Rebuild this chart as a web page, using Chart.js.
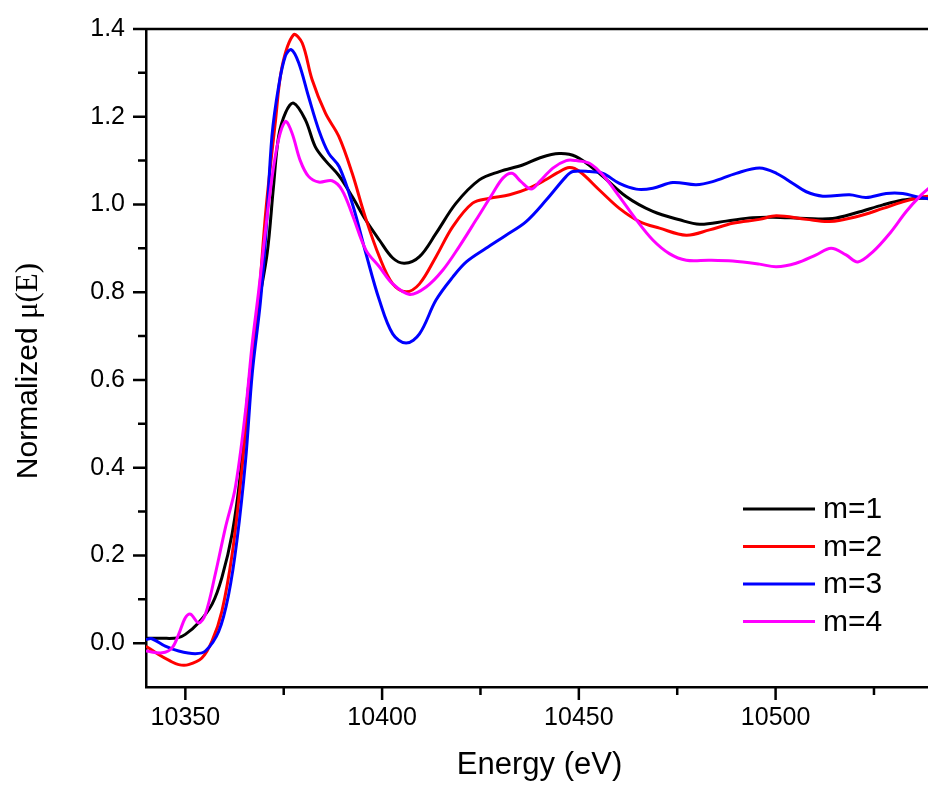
<!DOCTYPE html>
<html>
<head>
<meta charset="utf-8">
<title>Normalized mu(E) vs energy</title>
<script src="https://cdn.jsdelivr.net/npm/chart.js@4.4.1/dist/chart.umd.min.js"></script>
<style>
    html, body { margin: 0; padding: 0; background: #fff; overflow: hidden; }
    #wrap { width: 928px; height: 787px; overflow: hidden; }
</style>
</head>
<body>
<div id="wrap"><canvas id="xanesChart" width="940" height="787"></canvas></div>
<script>
    // values
    const seriesLabels = ['m=1', 'm=2', 'm=3', 'm=4'];

    const m1Energy = [10340, 10344, 10348, 10350, 10353.3, 10356.8, 10359.3, 10361.9, 10364, 10366.1, 10368.4, 10370.8, 10372.4, 10373.7, 10375.5, 10377.5, 10380.5, 10383, 10385.6, 10389, 10392.4, 10395.8, 10399.3, 10402.7, 10405.7, 10409.5, 10413.7, 10418.8, 10424.7, 10429.8, 10435.7, 10440, 10445, 10449.3, 10455.2, 10462, 10468.8, 10475.6, 10480.7, 10487.4, 10494.2, 10499.3, 10507.8, 10514.5, 10520.5, 10527.3, 10532.3, 10536.6, 10540];
    const m1Mu = [0.011, 0.011, 0.012, 0.02, 0.046, 0.089, 0.15, 0.25, 0.386, 0.59, 0.76, 0.889, 1.041, 1.155, 1.21, 1.231, 1.193, 1.132, 1.10, 1.066, 1.018, 0.965, 0.919, 0.878, 0.866, 0.881, 0.934, 1.003, 1.056, 1.075, 1.090, 1.106, 1.116, 1.109, 1.071, 1.018, 0.984, 0.965, 0.955, 0.962, 0.970, 0.971, 0.968, 0.968, 0.981, 0.999, 1.010, 1.014, 1.015];

    const m2Energy = [10340, 10343.2, 10346, 10348.3, 10350.8, 10354.2, 10356.8, 10359.3, 10361.9, 10364, 10366.1, 10368.6, 10370.5, 10372.9, 10374.6, 10377.5, 10379.7, 10382.2, 10385.6, 10389, 10392.4, 10395.6, 10399.3, 10402.7, 10406.1, 10409.5, 10413.7, 10418, 10423, 10427.3, 10432.4, 10437.4, 10441.7, 10444.5, 10447.6, 10450.2, 10455.2, 10460.3, 10465.4, 10470.5, 10477.3, 10483.2, 10489.1, 10495.9, 10500.2, 10507.8, 10513.7, 10520.5, 10527.3, 10532.3, 10536.6, 10540];
    const m2Mu = [-0.007, -0.026, -0.040, -0.049, -0.049, -0.034, 0.005, 0.073, 0.203, 0.363, 0.56, 0.78, 0.99, 1.19, 1.315, 1.387, 1.368, 1.285, 1.208, 1.155, 1.071, 0.975, 0.881, 0.819, 0.801, 0.819, 0.881, 0.950, 1.003, 1.014, 1.022, 1.037, 1.057, 1.072, 1.084, 1.075, 1.033, 0.991, 0.961, 0.946, 0.930, 0.942, 0.957, 0.966, 0.974, 0.966, 0.961, 0.972, 0.991, 1.006, 1.016, 1.02];

    const m3Energy = [10340, 10341.5, 10344.9, 10348.3, 10352.5, 10355.1, 10358.5, 10361, 10363.1, 10365.3, 10367, 10369.1, 10370.6, 10372, 10373.7, 10375.4, 10376.9, 10378.8, 10381.3, 10383.9, 10386.4, 10389.1, 10392.5, 10395.9, 10399.3, 10402.7, 10406.1, 10409.5, 10413.7, 10418, 10421.4, 10426.4, 10431.5, 10436.6, 10441.7, 10446.8, 10448.5, 10452.7, 10456.1, 10460.3, 10464.6, 10468.8, 10473.9, 10479.8, 10484, 10490, 10495.9, 10500.2, 10504.4, 10507.8, 10512, 10518.8, 10523, 10528.1, 10532.3, 10536.6, 10540];
    const m3Mu = [0.008, 0.010, -0.007, -0.018, -0.024, -0.018, 0.027, 0.111, 0.233, 0.416, 0.615, 0.78, 0.95, 1.155, 1.269, 1.338, 1.353, 1.323, 1.246, 1.170, 1.117, 1.086, 1.0, 0.888, 0.782, 0.705, 0.684, 0.705, 0.782, 0.835, 0.869, 0.900, 0.930, 0.961, 1.010, 1.064, 1.075, 1.075, 1.071, 1.048, 1.035, 1.037, 1.050, 1.045, 1.052, 1.071, 1.083, 1.071, 1.048, 1.029, 1.019, 1.022, 1.016, 1.025, 1.025, 1.016, 1.012];

    const m4Energy = [10340, 10344.1, 10346.6, 10348.3, 10350, 10351.3, 10353.4, 10355.1, 10357.6, 10360.2, 10362.7, 10365.3, 10367, 10368.6, 10371.2, 10373.3, 10375.4, 10377.1, 10379.2, 10381.3, 10383.9, 10387.3, 10389.8, 10392.5, 10395.9, 10399.3, 10402.7, 10407, 10411.2, 10415.4, 10419.6, 10423.9, 10428.1, 10430.7, 10433, 10435.3, 10437.9, 10440, 10443.4, 10446.8, 10449.3, 10452.7, 10456.1, 10460.3, 10464.6, 10468.8, 10473, 10477.3, 10483.2, 10489.1, 10495.9, 10500.2, 10505.2, 10510.3, 10514.1, 10517.9, 10520.9, 10524.7, 10529, 10533.2, 10536.6, 10540];
    const m4Mu = [-0.018, -0.022, -0.011, 0.020, 0.058, 0.066, 0.046, 0.066, 0.157, 0.264, 0.355, 0.530, 0.683, 0.80, 1.003, 1.132, 1.189, 1.163, 1.10, 1.064, 1.051, 1.054, 1.033, 0.975, 0.896, 0.858, 0.819, 0.795, 0.812, 0.850, 0.904, 0.965, 1.025, 1.060, 1.071, 1.052, 1.035, 1.052, 1.083, 1.100, 1.100, 1.094, 1.067, 1.018, 0.965, 0.919, 0.888, 0.873, 0.873, 0.871, 0.864, 0.858, 0.866, 0.885, 0.900, 0.885, 0.869, 0.892, 0.934, 0.984, 1.018, 1.045];

    const energyTicks = [10350, 10375, 10400, 10425, 10450, 10475, 10500, 10525];
    const muTicks = [0.0, 0.1, 0.2, 0.3, 0.4, 0.5, 0.6, 0.7, 0.8, 0.9, 1.0, 1.1, 1.2, 1.3, 1.4];

    const SANS = '"Liberation Sans", Arial, Helvetica, sans-serif';
    const SERIF = '"Liberation Serif", "Times New Roman", serif';

    function toPoints(xs, ys) {
        return xs.map((x, i) => ({ x: x, y: ys[i] }));
    }

    function isMajorMu(v) {
        return Math.round(v * 10) % 2 === 0;
    }

    // Origin-style frame: top line, outward tick marks of two lengths
    const frameTicks = {
        id: 'frameTicks',
        afterDraw(chart) {
            const ctx = chart.ctx;
            const area = chart.chartArea;
            const xs = chart.scales.x;
            const ys = chart.scales.y;
            ctx.save();
            ctx.strokeStyle = '#000';
            ctx.lineWidth = 2.5;
            ctx.beginPath();
            ctx.moveTo(area.left - 1.25, area.top);
            ctx.lineTo(area.right, area.top);
            energyTicks.forEach(v => {
                const px = xs.getPixelForValue(v);
                const len = v % 50 === 0 ? 13 : 8;
                ctx.moveTo(px, area.bottom);
                ctx.lineTo(px, area.bottom + len);
            });
            muTicks.forEach(v => {
                const py = ys.getPixelForValue(v);
                const len = isMajorMu(v) ? 13 : 8;
                ctx.moveTo(area.left, py);
                ctx.lineTo(area.left - len, py);
            });
            ctx.stroke();
            ctx.restore();
        }
    };

    // y title mixes a sans label with a serif mu(E)
    const yTitle = {
        id: 'yTitle',
        afterDraw(chart) {
            const ctx = chart.ctx;
            const part1 = 'Normalized ';
            const part2 = 'μ(E)';
            ctx.save();
            ctx.fillStyle = '#000';
            ctx.font = '30px ' + SANS;
            const w1 = ctx.measureText(part1).width;
            ctx.font = '31px ' + SERIF;
            const w2 = ctx.measureText(part2).width;
            ctx.translate(37, 371 + (w1 + w2) / 2);
            ctx.rotate(-Math.PI / 2);
            ctx.textBaseline = 'alphabetic';
            ctx.textAlign = 'left';
            ctx.font = '30px ' + SANS;
            ctx.fillText(part1, 0, 0);
            ctx.font = '31px ' + SERIF;
            ctx.fillText(part2, w1, 0);
            ctx.restore();
        }
    };

    const insideLegend = {
        id: 'insideLegend',
        afterDraw(chart) {
            const ctx = chart.ctx;
            ctx.save();
            ctx.font = '30px ' + SANS;
            ctx.textBaseline = 'middle';
            ctx.textAlign = 'left';
            chart.data.datasets.forEach((ds, i) => {
                const y = 509 + i * 37.5;
                ctx.strokeStyle = ds.borderColor;
                ctx.lineWidth = 3;
                ctx.beginPath();
                ctx.moveTo(743, y);
                ctx.lineTo(815, y);
                ctx.stroke();
                ctx.fillStyle = '#000';
                ctx.fillText(ds.label, 823, y + 1);
            });
            ctx.restore();
        }
    };

    document.addEventListener('DOMContentLoaded', function () {
        try {
            renderXanesChart();
        } catch (error) {
            console.error('Error rendering chart:', error);
        }
    });

    function renderXanesChart() {
        const ctx = document.getElementById('xanesChart').getContext('2d');
        new Chart(ctx, {
            type: 'line',
            data: {
                datasets: [
                    { label: seriesLabels[0], data: toPoints(m1Energy, m1Mu), borderColor: '#000000', order: 4 },
                    { label: seriesLabels[1], data: toPoints(m2Energy, m2Mu), borderColor: '#ff0000', order: 3 },
                    { label: seriesLabels[2], data: toPoints(m3Energy, m3Mu), borderColor: '#0000ff', order: 2 },
                    { label: seriesLabels[3], data: toPoints(m4Energy, m4Mu), borderColor: '#ff00ff', order: 1 }
                ]
            },
            options: {
                responsive: false,
                animation: false,
                layout: { padding: { top: 29, right: 7, bottom: 0, left: 0 } },
                elements: {
                    point: { radius: 0 },
                    line: { borderWidth: 3, tension: 0.35, fill: false }
                },
                plugins: {
                    legend: { display: false },
                    tooltip: { enabled: false }
                },
                scales: {
                    x: {
                        type: 'linear',
                        min: 10340,
                        max: 10540,
                        afterBuildTicks: s => { s.ticks = energyTicks.map(v => ({ value: v })); },
                        afterFit: s => { s.height = 100; },
                        ticks: {
                            autoSkip: false,
                            maxRotation: 0,
                            padding: 3,
                            color: '#000',
                            font: { family: SANS, size: 25 },
                            callback: v => (v % 50 === 0 ? String(v) : '')
                        },
                        grid: { drawOnChartArea: false, tickLength: 13, tickColor: 'rgba(0,0,0,0)' },
                        border: { display: true, color: '#000', width: 2.5 },
                        title: {
                            display: true,
                            text: 'Energy (eV)',
                            color: '#000',
                            font: { family: SANS, size: 31 },
                            padding: { top: 0, bottom: 3 }
                        }
                    },
                    y: {
                        type: 'linear',
                        min: -0.1,
                        max: 1.4,
                        afterBuildTicks: s => { s.ticks = muTicks.map(v => ({ value: v })); },
                        afterFit: s => { s.width = 146; },
                        ticks: {
                            autoSkip: false,
                            padding: 8,
                            color: '#000',
                            font: { family: SANS, size: 25 },
                            callback: v => (isMajorMu(v) ? v.toFixed(1) : '')
                        },
                        grid: { drawOnChartArea: false, tickLength: 13, tickColor: 'rgba(0,0,0,0)' },
                        border: { display: true, color: '#000', width: 2.5 }
                    }
                }
            },
            plugins: [frameTicks, yTitle, insideLegend]
        });
    }
</script>
</body>
</html>
